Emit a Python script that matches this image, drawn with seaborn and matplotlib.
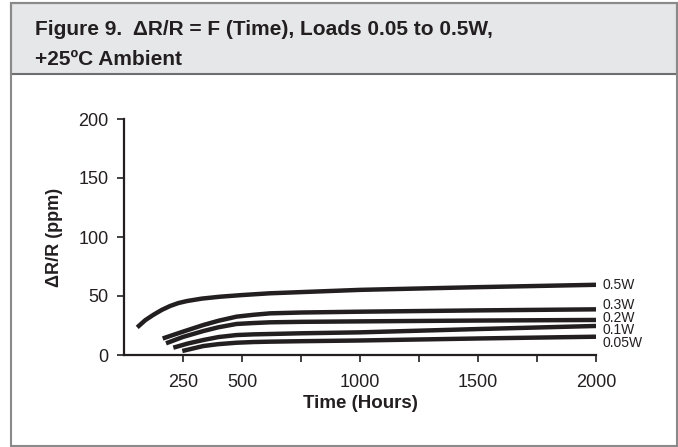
import pandas as pd
import matplotlib.pyplot as plt
import seaborn as sns
from matplotlib.patches import Rectangle

# valores (horas, ppm)
cargas = ["0.5W", "0.3W", "0.2W", "0.1W", "0.05W"]

t_05 = [56, 90, 124, 160, 195, 230, 266, 330, 407, 500, 619, 750, 1000, 1500, 2000]
v_05 = [23.4, 29.5, 34.0, 38.2, 41.5, 44.0, 45.7, 47.8, 49.4, 50.8, 52.3, 53.3, 55.2, 57.5, 59.5]

t_03 = [164, 250, 336, 400, 477, 550, 619, 750, 1000, 1500, 2000]
v_03 = [14.0, 19.8, 25.4, 29.0, 32.5, 34.1, 35.3, 36.0, 36.7, 37.8, 38.7]

t_02 = [178, 250, 336, 400, 477, 550, 619, 750, 1000, 1500, 2000]
v_02 = [9.9, 15.3, 20.3, 23.5, 26.3, 27.1, 27.7, 28.1, 28.5, 29.2, 29.7]

t_01 = [209, 270, 336, 400, 477, 550, 619, 750, 1000, 1500, 2000]
v_01 = [6.2, 9.7, 12.7, 15.2, 16.9, 17.5, 17.8, 18.4, 19.2, 22.0, 24.6]

t_005 = [247, 336, 400, 477, 550, 619, 750, 1000, 1500, 2000]
v_005 = [3.4, 7.6, 9.2, 10.4, 11.0, 11.3, 11.7, 12.3, 14.0, 15.5]

x_ticks = [250, 500, 750, 1000, 1250, 1500, 1750, 2000]
x_ticklabels = ["250", "500", "", "1000", "", "1500", "", "2000"]
y_ticks = [0, 50, 100, 150, 200]

series = {
    "0.5W": (t_05, v_05),
    "0.3W": (t_03, v_03),
    "0.2W": (t_02, v_02),
    "0.1W": (t_01, v_01),
    "0.05W": (t_005, v_005),
}

df = pd.concat(
    [pd.DataFrame({"time": t, "drr": v, "load": k}) for k, (t, v) in series.items()],
    ignore_index=True,
)

sns.set_theme(style="white")
plt.rcParams["font.family"] = ["Liberation Sans", "DejaVu Sans"]
ink = "#231f20"

W, H = 678, 447
fig = plt.figure(figsize=(W / 100, H / 100), dpi=100)
fig.patch.set_facecolor("white")

# marco y cabecera gris
fig.patches.append(Rectangle((11 / W, 1 - 446 / H), 666 / W, 443 / H, transform=fig.transFigure,
                             facecolor="none", edgecolor="#8a8a8a", linewidth=1.5, zorder=3))
fig.patches.append(Rectangle((11 / W, 1 - 74 / H), 666 / W, 71 / H, transform=fig.transFigure,
                             facecolor="#e6e7e8", edgecolor="#6d6e70", linewidth=1.5, zorder=1))

fig.text(35 / W, 1 - 35 / H, "Figure 9.  ΔR/R = F (Time), Loads 0.05 to 0.5W,",
         fontsize=15, fontweight="bold", color=ink, va="baseline", ha="left", zorder=4)
fig.text(35 / W, 1 - 65 / H, "+25ºC Ambient",
         fontsize=15, fontweight="bold", color=ink, va="baseline", ha="left", zorder=4)

ax = fig.add_axes([124 / W, 1 - 355 / H, 472 / W, 236 / H])
ax.set_facecolor("none")

sns.lineplot(data=df, x="time", y="drr", hue="load", hue_order=cargas,
             palette=[ink] * len(cargas), estimator=None, sort=False,
             linewidth=3.2, legend=False, ax=ax)
for ln in ax.get_lines():
    ln.set_solid_capstyle("butt")
    ln.set_solid_joinstyle("round")

# etiquetas al final de cada curva (desplazamiento vertical en px)
desplaz = {"0.5W": 0, "0.3W": 4, "0.2W": 2, "0.1W": -4, "0.05W": -6}
for k in cargas:
    t, v = series[k]
    ax.annotate(k, xy=(t[-1], v[-1]), xytext=(5, desplaz[k] * 0.72),
                textcoords="offset points", ha="left", va="center",
                fontsize=10, color=ink, annotation_clip=False)

ax.set_xlim(0, 2000)
ax.set_ylim(0, 200)
ax.set_xticks(x_ticks)
ax.set_xticklabels(x_ticklabels)
ax.set_yticks(y_ticks)
ax.tick_params(axis="both", direction="out", length=5, width=1.2, colors=ink,
               labelsize=13, left=True, bottom=True)
ax.tick_params(axis="x", pad=9)
ax.tick_params(axis="y", pad=6)

for s in ["top", "right"]:
    ax.spines[s].set_visible(False)
for s in ["left", "bottom"]:
    ax.spines[s].set_color(ink)
    ax.spines[s].set_linewidth(1.6)

ax.set_xlabel("Time (Hours)", fontsize=13.5, fontweight="bold", color=ink)
ax.set_ylabel("ΔR/R (ppm)", fontsize=13, fontweight="bold", color=ink)
ax.xaxis.set_label_coords(0.5, -0.2076)
ax.yaxis.set_label_coords(-0.148, 0.5)
ax.xaxis.label.set_va("center")
ax.yaxis.label.set_va("center")

fig.savefig("out.png", dpi=100)
plt.close(fig)
